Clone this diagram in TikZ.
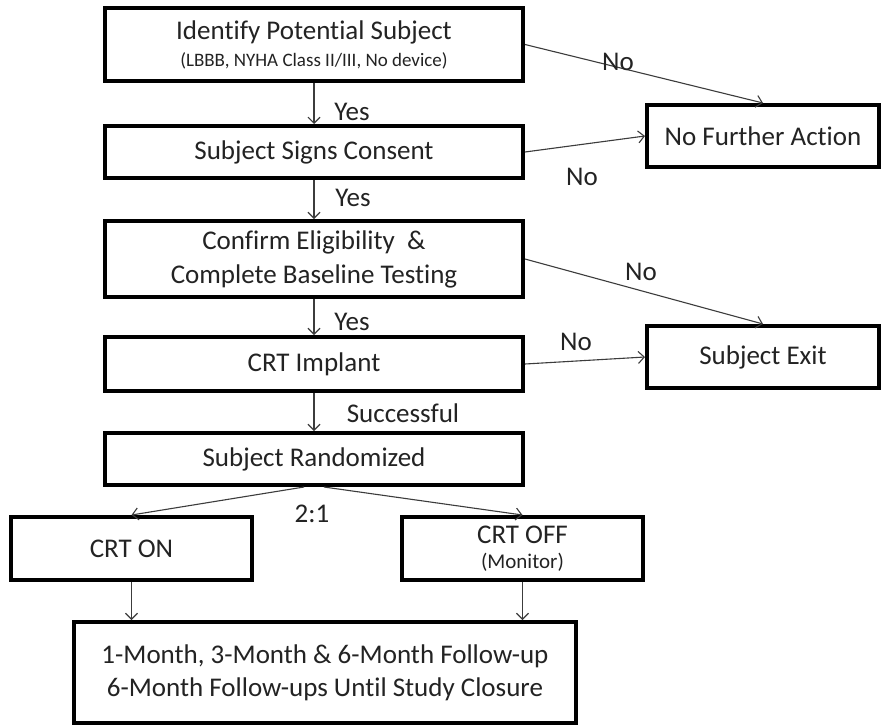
\documentclass[tikz,border=0pt]{standalone}
\usepackage{fontspec}
\setmainfont{Carlito}[Ligatures={NoCommon}]
\usetikzlibrary{arrows.meta}
\definecolor{txt}{RGB}{35,35,35}
\definecolor{ln}{RGB}{60,60,60}
\begin{document}
\begin{tikzpicture}[x=1pt,y=-1pt,
  box/.style={draw=black, line width=4pt, fill=white, text=txt, align=center, inner sep=0pt,
    font=\fontsize{27}{33}\selectfont},
  arr/.style={draw=ln, line width=1.1pt, -{Straight Barb[length=6pt,width=12pt]}},
  lab/.style={text=txt, font=\fontsize{27}{33}\selectfont, inner sep=0pt}]
\useasboundingbox (0,0) rectangle (881,726);
\fill[white] (0,0) rectangle (881,726);

% main column
\node[box, minimum width=418pt, minimum height=73pt] (b1) at (314,44.5)
  {Identify Potential Subject\\[-6pt]{\fontsize{19}{22}\selectfont (LBBB, NYHA Class II/III, No device)}};
\node[box, minimum width=418pt, minimum height=52pt] (b2) at (314,152) {Subject Signs Consent};
\node[box, minimum width=418pt, minimum height=76pt, font=\fontsize{27}{34}\selectfont] (b3) at (314,259)
  {Confirm Eligibility\ \ \&\\Complete\ Baseline Testing};
\node[box, minimum width=418pt, minimum height=54pt] (b4) at (314,364) {CRT Implant};
\node[box, minimum width=418pt, minimum height=52pt] (b5) at (314,459) {Subject Randomized};

% right column
\node[box, minimum width=232pt, minimum height=62pt] (nfa) at (763,136) {No Further Action};
\node[box, minimum width=232pt, minimum height=62pt] (se) at (763,357) {Subject Exit};

% arms
\node[box, minimum width=241pt, minimum height=63pt] (on) at (131.5,548.5) {CRT ON};
\node[box, minimum width=241pt, minimum height=63pt] (off) at (522.5,548.5)
  {CRT OFF\\[-8pt]{\fontsize{21}{24}\selectfont (Monitor)}};

% follow-up
\node[box, minimum width=502pt, minimum height=101pt] (fu) at (325,672.5)
  {1-Month, 3-Month \& 6-Month Follow-up\\6-Month Follow-ups Until Study Closure};

% connectors
\draw[arr] (b1) -- (b2);
\draw[arr] (b2) -- (b3);
\draw[arr] (b3) -- (b4);
\draw[arr] (b4) -- (b5);
\draw[arr] (b1.east) -- (nfa.north);
\draw[arr] (b2.east) -- (nfa.west);
\draw[arr] (b3.east) -- (se.north);
\draw[arr] (b4.east) -- (se.west);
\draw[arr] ([xshift=-10pt]b5.south) -- (on.north);
\draw[arr] ([xshift=10pt]b5.south) -- (off.north);
\draw[arr] (on.south) -- (on.south |- fu.north);
\draw[arr] (off.south) -- (off.south |- fu.north);

% labels
\node[lab] (y1) at (352,112) {Yes};
\node[lab] (y2) at (353,198) {Yes};
\node[lab] (y3) at (352,322) {Yes};
\node[lab] (sc) at (403,413) {Successful};
\node[lab] (n1) at (618,62) {No};
\node[lab] (n2) at (582,177) {No};
\node[lab] (n3) at (641,272) {No};
\node[lab] (n4) at (576,342) {No};
\node[lab] (r) at (312,514) {2:1};
\end{tikzpicture}
\end{document}
